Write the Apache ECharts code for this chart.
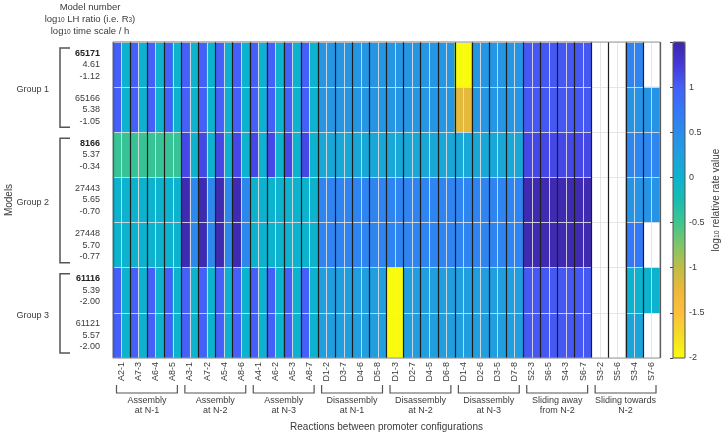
<!DOCTYPE html>
<html>
<head>
<meta charset="utf-8">
<script src="https://cdn.jsdelivr.net/npm/echarts@6/dist/echarts.min.js"></script>
<style>
html, body { margin: 0; padding: 0; background: #fff; }
#chart { width: 725px; height: 434px; }
</style>
</head>
<body>
<div id="chart"></div>
<script>
var reactions = ['A2-1','A7-3','A6-4','A8-5','A3-1','A7-2','A5-4','A8-6','A4-1','A6-2','A5-3','A8-7',
                 'D1-2','D3-7','D4-6','D5-8','D1-3','D2-7','D4-5','D6-8','D1-4','D2-6','D3-5','D7-8',
                 'S2-3','S6-5','S4-3','S6-7','S3-2','S5-6','S3-4','S7-6'];
var reactionGroups = ['Assembly\nat N-1','Assembly\nat N-2','Assembly\nat N-3',
                      'Disassembly\nat N-1','Disassembly\nat N-2','Disassembly\nat N-3',
                      'Sliding away\nfrom N-2','Sliding towards\nN-2'];
var models = ['65171','65166','8166','27443','27448','61116','61121'];
var lhRatio = ['4.61','5.38','5.37','5.65','5.70','5.39','5.57'];
var timeScale = ['-1.12','-1.05','-0.34','-0.70','-0.77','-2.00','-2.00'];
var leadModels = ['65171','8166','61116'];
var modelGroups = ['Group 1','Group 2','Group 3'];
var groupSizes = [2, 3, 2];
var colorTicks = [-2, -1.5, -1, -0.5, 0, 0.5, 1];

// log10 relative rate value, two halves per reaction (left, right); null = no value
var rates65171 = [1.0,0.0, 1.0,0.0, 1.0,0.0, 1.0,0.0,   1.0,0.0, 1.0,0.0, 1.0,0.0, 1.0,0.0,
                  1.0,0.0, 1.0,0.0, 1.0,0.0, 1.0,0.0,   0.37,0.37, 0.37,0.37, 0.37,0.37, 0.37,0.37,
                  0.37,0.37, 0.37,0.37, 0.37,0.37, 0.37,0.37,   -2,-2, 0.37,0.37, 0.37,0.37, 0.37,0.37,
                  1.05,1.05, 1.05,1.05, 1.05,1.05, 1.05,1.05,   null,null, null,null, 0.6,0.6, null,null];
var rates65166 = [1.0,0.0, 1.0,0.0, 1.0,0.0, 1.0,0.0,   1.0,0.0, 1.0,0.0, 1.0,0.0, 1.0,0.0,
                  1.0,0.0, 1.0,0.0, 1.0,0.0, 1.0,0.0,   0.37,0.37, 0.37,0.37, 0.37,0.37, 0.37,0.37,
                  0.37,0.37, 0.37,0.37, 0.37,0.37, 0.37,0.37,   -1.2,-1.2, 0.37,0.37, 0.37,0.37, 0.37,0.37,
                  1.05,1.05, 1.05,1.05, 1.05,1.05, 1.05,1.05,   null,null, null,null, 0.4,0.4, 0.4,0.4];
var rates8166 = [-0.45,-0.45, -0.45,-0.45, -0.45,-0.45, -0.45,-0.45,   1.15,0.0, 1.15,0.0, 1.15,0.0, 1.15,0.0,
                 1.15,0.0, 1.15,0.0, 1.15,0.0, 1.15,0.0,   0.15,0.15, 0.15,0.15, 0.15,0.15, 0.15,0.15,
                 0.15,0.15, 0.15,0.15, 0.15,0.15, 0.15,0.15,   0.15,0.15, 0.15,0.15, 0.15,0.15, 0.15,0.15,
                 1.15,1.15, 1.15,1.15, 1.15,1.15, 1.15,1.15,   null,null, null,null, 0.58,0.58, 0.58,0.58];
var rates27443 = [0.0,0.0, 0.0,0.0, 0.0,0.0, 0.0,0.0,   1.45,0.55, 1.45,0.55, 1.45,0.55, 1.45,0.55,
                  0.0,0.0, 0.0,0.0, 0.0,0.0, 0.0,0.0,   0.6,0.6, 0.6,0.6, 0.6,0.6, 0.6,0.6,
                  0.6,0.6, 0.6,0.6, 0.6,0.6, 0.6,0.6,   0.6,0.6, 0.6,0.6, 0.6,0.6, 0.6,0.6,
                  1.45,1.45, 1.45,1.45, 1.45,1.45, 1.45,1.45,   null,null, null,null, 0.4,0.4, 0.4,0.4];
var rates27448 = [0.0,0.0, 0.0,0.0, 0.0,0.0, 0.0,0.0,   1.45,0.55, 1.45,0.55, 1.45,0.55, 1.45,0.55,
                  0.0,0.0, 0.0,0.0, 0.0,0.0, 0.0,0.0,   0.6,0.6, 0.6,0.6, 0.6,0.6, 0.6,0.6,
                  0.6,0.6, 0.6,0.6, 0.6,0.6, 0.6,0.6,   0.6,0.6, 0.6,0.6, 0.6,0.6, 0.6,0.6,
                  1.45,1.45, 1.45,1.45, 1.45,1.45, 1.45,1.45,   null,null, null,null, 0.75,0.75, null,null];
var rates61116 = [1.0,0.0, 1.0,0.0, 1.0,0.0, 1.0,0.0,   1.0,0.0, 1.0,0.0, 1.0,0.0, 1.0,0.0,
                  1.0,0.0, 1.0,0.0, 1.0,0.0, 1.0,0.0,   0.28,0.28, 0.28,0.28, 0.28,0.28, 0.28,0.28,
                  -2,-2, 0.28,0.28, 0.28,0.28, 0.28,0.28,   0.28,0.28, 0.28,0.28, 0.28,0.28, 0.28,0.28,
                  1.05,1.05, 1.05,1.05, 1.05,1.05, 1.05,1.05,   null,null, null,null, 0.0,0.0, 0.0,0.0];
var rates61121 = [1.0,0.0, 1.0,0.0, 1.0,0.0, 1.0,0.0,   1.0,0.0, 1.0,0.0, 1.0,0.0, 1.0,0.0,
                  1.0,0.0, 1.0,0.0, 1.0,0.0, 1.0,0.0,   0.28,0.28, 0.28,0.28, 0.28,0.28, 0.28,0.28,
                  -2,-2, 0.28,0.28, 0.28,0.28, 0.28,0.28,   0.28,0.28, 0.28,0.28, 0.28,0.28, 0.28,0.28,
                  1.05,1.05, 1.05,1.05, 1.05,1.05, 1.05,1.05,   null,null, null,null, 0.2,0.2, null,null];

// parula, running from the low end (-2, yellow) to the high end (1.5, dark blue)
var parulaLowToHigh = ['#f9fb0e','#f5dc26','#fdbe3c','#eeb83a','#bfbd45','#80c56a','#3fc58f','#19bdb0',
                       '#0db2cf','#1fa0dd','#2b8cec','#3378f7','#4560f9','#4538d9','#3e26a8'];

var FONT = "'Liberation Sans', Arial, Helvetica, sans-serif";
var TXT = '#3a3a3a';

var rateRows = [rates65171, rates65166, rates8166, rates27443, rates27448, rates61116, rates61121];
var halves = [];
reactions.forEach(function (r) { halves.push(r + ' L', r + ' R'); });
var cells = [];
rateRows.forEach(function (row, y) {
  row.forEach(function (v, x) { if (v !== null) cells.push([x, y, v]); });
});

var chart = echarts.init(document.getElementById('chart'));

var option = {
  animation: false,
  backgroundColor: '#fff',
  textStyle: { fontFamily: FONT },
  grid: [
    { left: 113, top: 42, width: 547, height: 316, containLabel: false, outerBoundsMode: 'none' },
    { left: 673, top: 42, width: 12, height: 316, containLabel: false, outerBoundsMode: 'none' }
  ],
  xAxis: [
    {
      type: 'category', gridIndex: 0, data: halves, position: 'bottom', z: 10,
      axisLine: { show: false }, axisTick: { show: false }, axisLabel: { show: false },
      splitLine: { show: true, interval: function (i) { return i % 2 === 1; },
                   lineStyle: { color: 'rgba(226,226,226,0.85)', width: 1 } }
    },
    {
      type: 'category', gridIndex: 0, data: reactions, position: 'bottom', z: 11,
      axisLine: { show: false }, axisTick: { show: false },
      axisLabel: { rotate: 90, interval: 0, fontSize: 9, color: TXT, margin: 4, fontFamily: FONT },
      splitLine: { show: true, interval: 0, lineStyle: { color: '#1e1e1e', width: 1.2 } },
      name: 'Reactions between promoter configurations', nameLocation: 'middle', nameGap: 64,
      nameTextStyle: { fontSize: 10, color: TXT, fontFamily: FONT }
    },
    { type: 'value', gridIndex: 1, show: false }
  ],
  yAxis: [
    {
      type: 'category', gridIndex: 0, data: models, inverse: true, z: 10,
      axisLine: { show: false }, axisTick: { show: false },
      axisLabel: {
        margin: 13, color: TXT, fontFamily: FONT,
        formatter: function (v, i) {
          var tag = leadModels.indexOf(v) >= 0 ? 'b' : 'n';
          return '{' + tag + '|' + v + '}\n{n|' + lhRatio[i] + '}\n{n|' + timeScale[i] + '}';
        },
        rich: {
          b: { fontSize: 9, fontWeight: 'bold', color: '#222', lineHeight: 11.5, align: 'right', fontFamily: FONT },
          n: { fontSize: 9, color: TXT, lineHeight: 11.5, align: 'right', fontFamily: FONT }
        }
      },
      splitLine: { show: true, interval: 0, lineStyle: { color: 'rgba(226,226,226,0.85)', width: 1 } },
      name: 'Models', nameLocation: 'middle', nameRotate: 90, nameGap: 99,
      nameTextStyle: { fontSize: 10, color: TXT, fontFamily: FONT }
    },
    {
      type: 'value', gridIndex: 1, min: -2, max: 1.5, interval: 0.5, position: 'right', z: 10,
      axisLine: { show: false },
      axisTick: { show: true, inside: true, length: 3, lineStyle: { color: '#444' } },
      splitLine: { show: false },
      axisLabel: {
        fontSize: 9, color: TXT, margin: 4, fontFamily: FONT,
        formatter: function (v) { return colorTicks.indexOf(v) >= 0 ? String(v) : ''; }
      },
      name: 'log{s|10} relative rate value', nameLocation: 'middle', nameRotate: 90, nameGap: 26,
      nameTextStyle: {
        fontSize: 10, color: TXT, fontFamily: FONT,
        rich: { s: { fontSize: 7, color: TXT, verticalAlign: 'bottom', fontFamily: FONT } }
      }
    }
  ],
  visualMap: {
    type: 'continuous', min: -2, max: 1.5, seriesIndex: 0,
    orient: 'vertical', left: 673, top: 42, itemWidth: 12, itemHeight: 316,
    padding: 0, calculable: false, hoverLink: false, text: null, showLabel: false,
    inRange: { color: parulaLowToHigh }
  },
  series: [{
    type: 'heatmap', xAxisIndex: 0, yAxisIndex: 0, data: cells,
    itemStyle: { borderWidth: 0 },
    emphasis: { disabled: true }
  }]
};
chart.setOption(option);

// annotations placed from the axis scales
var cx0 = chart.convertToPixel({ xAxisIndex: 1 }, reactions[0]);
var cx1 = chart.convertToPixel({ xAxisIndex: 1 }, reactions[1]);
var bw = cx1 - cx0;
function xLeft(i) { return cx0 - bw / 2 + i * bw; }
var cy0 = chart.convertToPixel({ yAxisIndex: 0 }, models[0]);
var cy1 = chart.convertToPixel({ yAxisIndex: 0 }, models[1]);
var rh = cy1 - cy0;
function yTop(j) { return cy0 - rh / 2 + j * rh; }

var plotL = xLeft(0), plotR = xLeft(reactions.length), plotT = yTop(0), plotB = yTop(models.length);
var graphics = [];

graphics.push({
  type: 'rect', z: 100, silent: true,
  shape: { x: plotL, y: plotT, width: plotR - plotL, height: plotB - plotT },
  style: { fill: null, stroke: '#9a9a9a', lineWidth: 1 }
});
graphics.push({
  type: 'rect', z: 100, silent: true,
  shape: { x: 673, y: 42, width: 12, height: 316 },
  style: { fill: null, stroke: '#555', lineWidth: 1 }
});

// reaction group brackets
reactionGroups.forEach(function (g, k) {
  var a = xLeft(k * 4) + 3.5, b = xLeft(k * 4 + 4) - 4;
  var yl = plotB + 35, yu = plotB + 27;
  graphics.push({
    type: 'polyline', z: 100, silent: true,
    shape: { points: [[a, yu], [a, yl], [b, yl], [b, yu]] },
    style: { stroke: '#555', lineWidth: 1.2, fill: null }
  });
  graphics.push({
    type: 'text', z: 100, silent: true, x: (a + b) / 2, y: plotB + 37,
    style: { text: g, fill: TXT, fontSize: 9, fontFamily: FONT, align: 'center', verticalAlign: 'top', lineHeight: 10.5 }
  });
});

// model group brackets
var start = 0;
modelGroups.forEach(function (g, k) {
  var top = yTop(start) + 6, bot = yTop(start + groupSizes[k]) - 5;
  graphics.push({
    type: 'polyline', z: 100, silent: true,
    shape: { points: [[70, top], [60, top], [60, bot], [70, bot]] },
    style: { stroke: '#555', lineWidth: 1.5, fill: null }
  });
  graphics.push({
    type: 'text', z: 100, silent: true, x: 49, y: (top + bot) / 2 + 2,
    style: { text: g, fill: TXT, fontSize: 9, fontFamily: FONT, align: 'right', verticalAlign: 'middle' }
  });
  start += groupSizes[k];
});

// header of the model labels
var headRich = { s: { fontSize: 6.5, fill: TXT, verticalAlign: 'bottom', fontFamily: FONT } };
graphics.push({ type: 'text', z: 100, silent: true, x: 90, y: 7,
  style: { text: 'Model number', fill: TXT, fontSize: 9.5, fontFamily: FONT, align: 'center', verticalAlign: 'middle' } });
graphics.push({ type: 'text', z: 100, silent: true, x: 90, y: 19,
  style: { text: 'log{s|10} LH ratio (i.e. R{s|3})', rich: headRich, fill: TXT, fontSize: 9.5, fontFamily: FONT, align: 'center', verticalAlign: 'middle' } });
graphics.push({ type: 'text', z: 100, silent: true, x: 90, y: 31,
  style: { text: 'log{s|10} time scale / h', rich: headRich, fill: TXT, fontSize: 9.5, fontFamily: FONT, align: 'center', verticalAlign: 'middle' } });

chart.setOption({ graphic: graphics });
</script>
</body>
</html>
